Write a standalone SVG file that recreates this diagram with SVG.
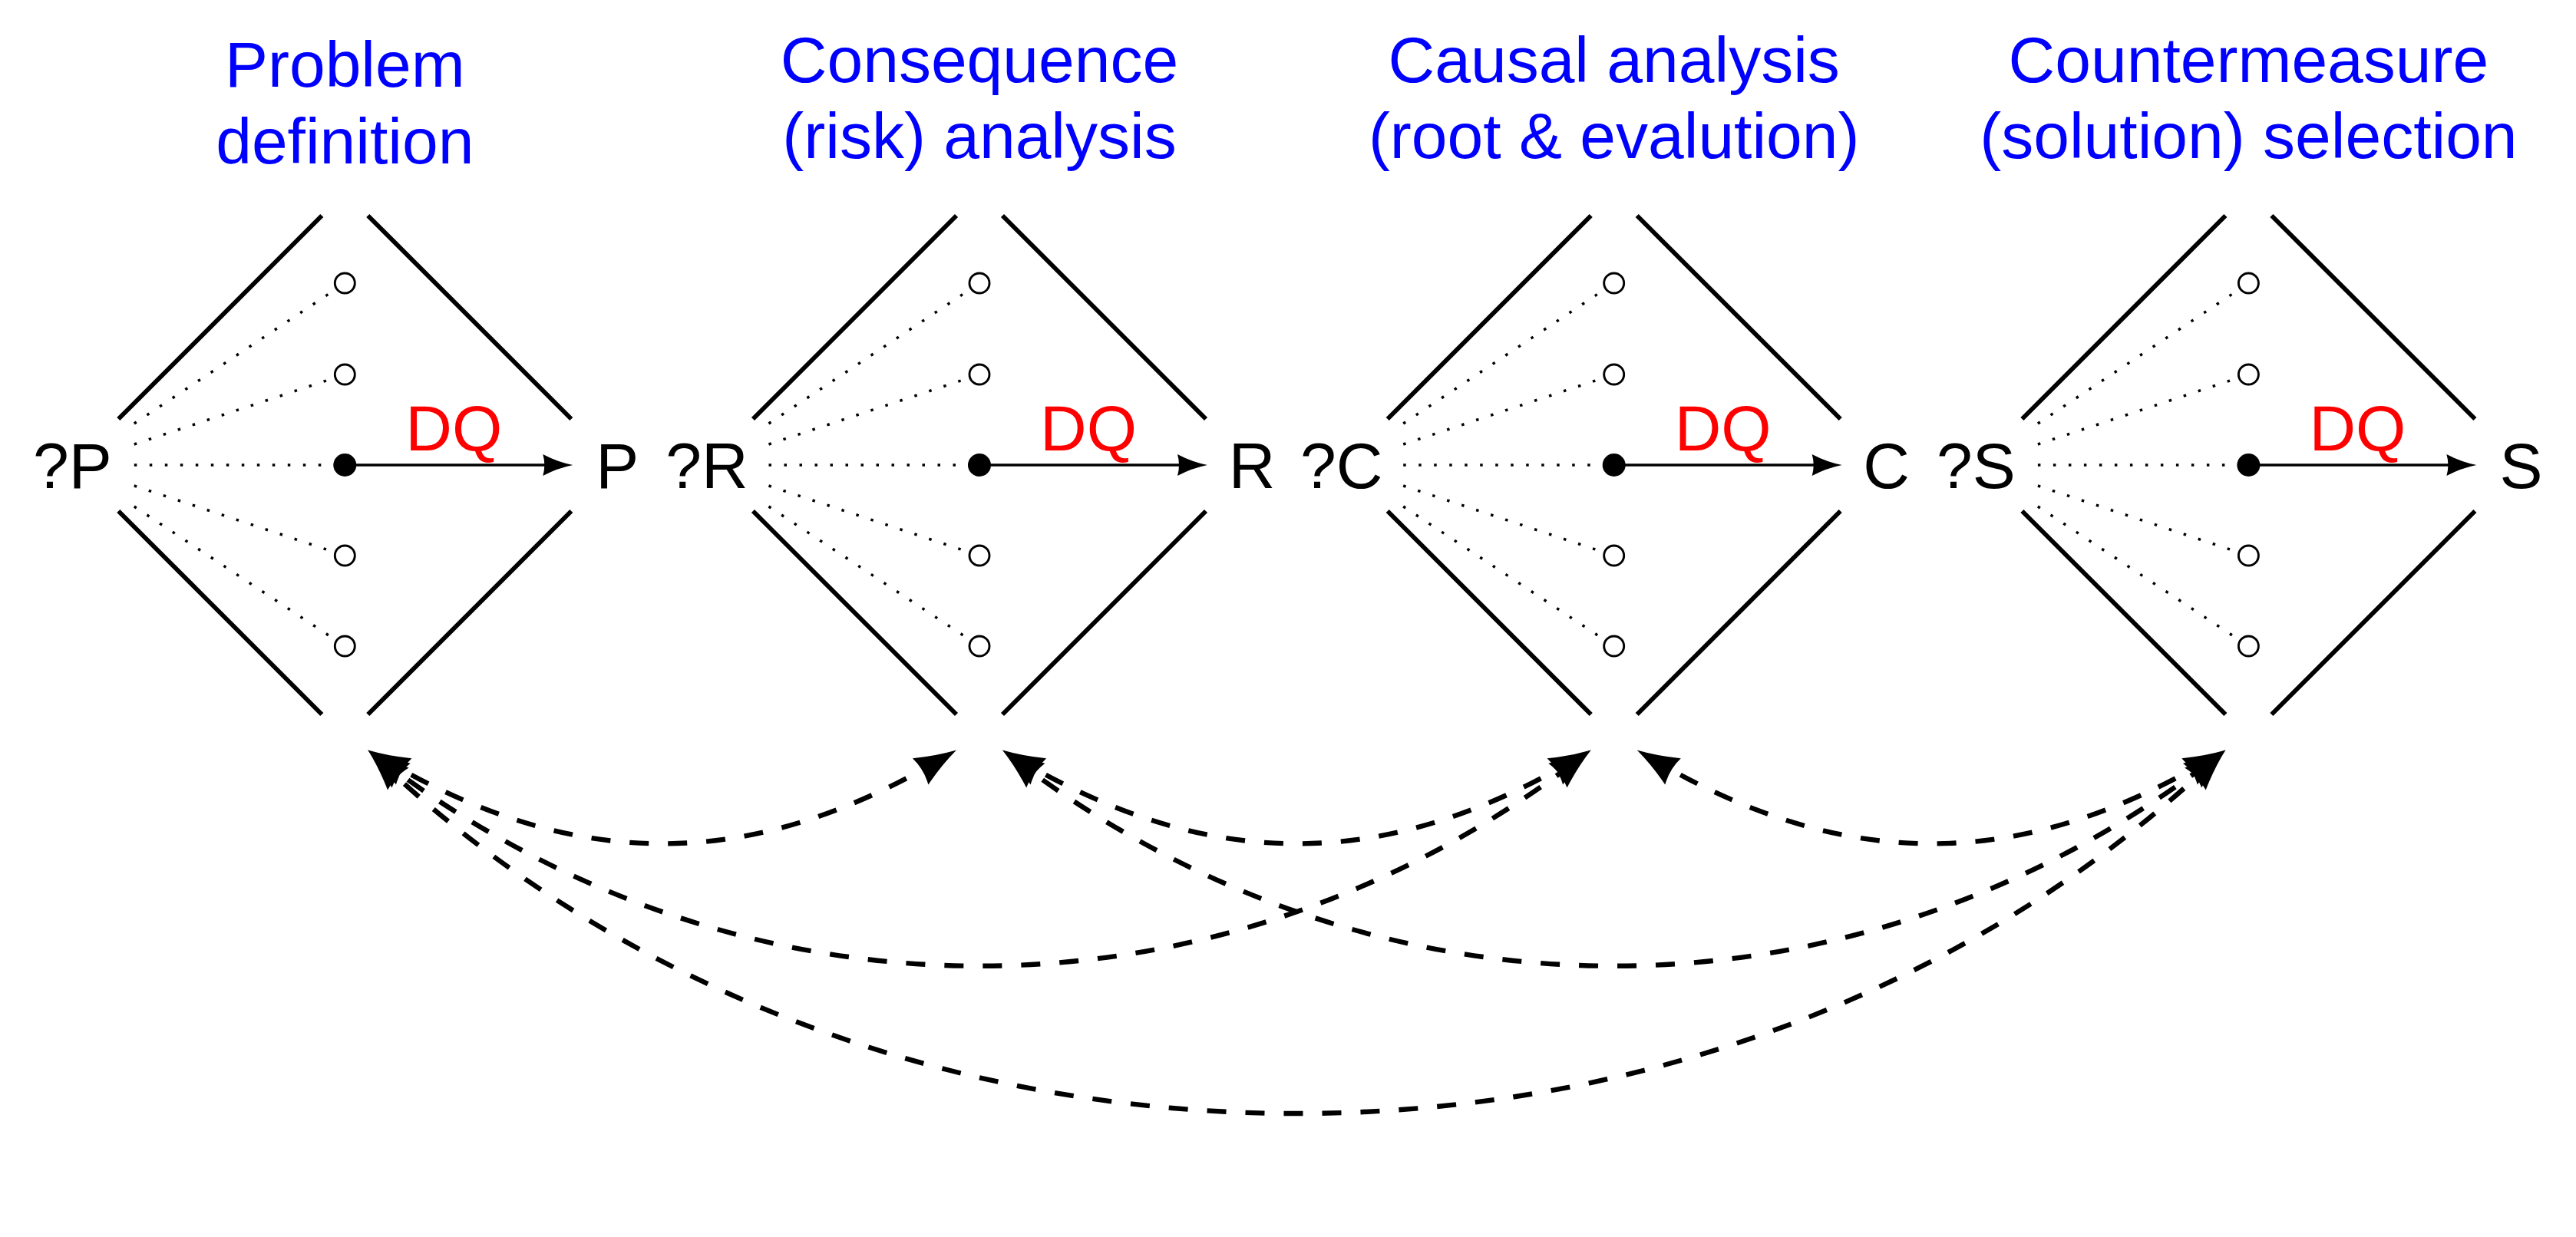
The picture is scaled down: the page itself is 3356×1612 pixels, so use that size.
<svg xmlns="http://www.w3.org/2000/svg" width="3356" height="1612" viewBox="0 0 3356 1612">
<style>
.bg{fill:#ffffff}
.t{font-family:"Liberation Sans",Arial,Helvetica,sans-serif;font-size:84px;text-anchor:middle}
.title{fill:#0000ff}
.lab{fill:#000000}
.dq{fill:#ff0000}
.dia{fill:none;stroke:#000;stroke-width:5.8;stroke-linecap:butt}
.dot{fill:none;stroke:#000;stroke-width:3.5;stroke-dasharray:3.5 16.5}
.oc{fill:#fff;stroke:#000;stroke-width:2.9}
.fc{fill:#000}
.arr{fill:none;stroke:#000;stroke-width:3.6;marker-end:url(#ahs)}
.dash{fill:none;stroke:#000;stroke-width:6.4;stroke-dasharray:25 25;marker-start:url(#ahd);marker-end:url(#ahd)}
</style>
<defs>
<marker id="ahs" markerUnits="userSpaceOnUse" viewBox="-45 -16 50 32" markerWidth="50" markerHeight="32" refX="-10" refY="0" orient="auto">
<path d="M0,0 Q-20,-4 -39,-14 Q-35,0 -39,14 Q-20,4 0,0 Z" fill="#000"/>
</marker>
<marker id="ahd" markerUnits="userSpaceOnUse" viewBox="-60 -25 80 50" markerWidth="80" markerHeight="50" refX="-15" refY="0" orient="auto-start-reverse">
<path d="M0,0 Q-27,-7 -54.5,-20 Q-49,0 -54.5,20 Q-27,7 0,0 Z" fill="#000"/>
</marker>
</defs>
<rect class="bg" x="0" y="0" width="3356" height="1612"/>

<g id="node-problem" transform="translate(449.3,0)">
<text class="t title" x="0" y="112.5">Problem</text>
<text class="t title" x="0" y="212.5">definition</text>
<path class="dia" d="M-295,546 L-30,281 M30,281 L295,546 M-295,666 L-30,931 M30,931 L295,666"/>
<path class="dot" d="M-274.5,552 L0,369 M-274.5,579 L0,488 M-274.5,606 L0,606 M-274.5,633 L0,724 M-274.5,660 L0,842"/>
<circle class="oc" cx="0" cy="369" r="13"/>
<circle class="oc" cx="0" cy="488" r="13"/>
<circle class="oc" cx="0" cy="724" r="13"/>
<circle class="oc" cx="0" cy="842" r="13"/>
<circle class="fc" cx="0" cy="606" r="15"/>
<path class="arr" d="M0,606 L287,606"/>
<text class="t dq" x="142" y="587">DQ</text>
<text class="t lab" x="-355" y="636">?P</text>
<text class="t lab" x="355" y="636">P</text>
</g>

<g id="node-consequence" transform="translate(1276,0)">
<text class="t title" x="0" y="106.5">Consequence</text>
<text class="t title" x="0" y="205.5">(risk) analysis</text>
<path class="dia" d="M-295,546 L-30,281 M30,281 L295,546 M-295,666 L-30,931 M30,931 L295,666"/>
<path class="dot" d="M-274.5,552 L0,369 M-274.5,579 L0,488 M-274.5,606 L0,606 M-274.5,633 L0,724 M-274.5,660 L0,842"/>
<circle class="oc" cx="0" cy="369" r="13"/>
<circle class="oc" cx="0" cy="488" r="13"/>
<circle class="oc" cx="0" cy="724" r="13"/>
<circle class="oc" cx="0" cy="842" r="13"/>
<circle class="fc" cx="0" cy="606" r="15"/>
<path class="arr" d="M0,606 L287,606"/>
<text class="t dq" x="142" y="587">DQ</text>
<text class="t lab" x="-355" y="636">?R</text>
<text class="t lab" x="355" y="636">R</text>
</g>

<g id="node-causal" transform="translate(2102.7,0)">
<text class="t title" x="0" y="106.5">Causal analysis</text>
<text class="t title" x="0" y="205.5">(root &amp; evalution)</text>
<path class="dia" d="M-295,546 L-30,281 M30,281 L295,546 M-295,666 L-30,931 M30,931 L295,666"/>
<path class="dot" d="M-274.5,552 L0,369 M-274.5,579 L0,488 M-274.5,606 L0,606 M-274.5,633 L0,724 M-274.5,660 L0,842"/>
<circle class="oc" cx="0" cy="369" r="13"/>
<circle class="oc" cx="0" cy="488" r="13"/>
<circle class="oc" cx="0" cy="724" r="13"/>
<circle class="oc" cx="0" cy="842" r="13"/>
<circle class="fc" cx="0" cy="606" r="15"/>
<path class="arr" d="M0,606 L287,606"/>
<text class="t dq" x="142" y="587">DQ</text>
<text class="t lab" x="-355" y="636">?C</text>
<text class="t lab" x="355" y="636">C</text>
</g>

<g id="node-countermeasure" transform="translate(2929.4,0)">
<text class="t title" x="0" y="106.5">Countermeasure</text>
<text class="t title" x="0" y="205.5">(solution) selection</text>
<path class="dia" d="M-295,546 L-30,281 M30,281 L295,546 M-295,666 L-30,931 M30,931 L295,666"/>
<path class="dot" d="M-274.5,552 L0,369 M-274.5,579 L0,488 M-274.5,606 L0,606 M-274.5,633 L0,724 M-274.5,660 L0,842"/>
<circle class="oc" cx="0" cy="369" r="13"/>
<circle class="oc" cx="0" cy="488" r="13"/>
<circle class="oc" cx="0" cy="724" r="13"/>
<circle class="oc" cx="0" cy="842" r="13"/>
<circle class="fc" cx="0" cy="606" r="15"/>
<path class="arr" d="M0,606 L287,606"/>
<text class="t dq" x="142" y="587">DQ</text>
<text class="t lab" x="-355" y="636">?S</text>
<text class="t lab" x="355" y="636">S</text>
</g>

<g id="connectors">
<path id="c-p-r" class="dash" d="M492.2,985.2 C748.3,1137.5 977,1137.5 1233.1,985.2"/>
<path id="c-r-c" class="dash" d="M1318.9,985.2 C1575,1137.5 1803.7,1137.5 2059.8,985.2"/>
<path id="c-c-s" class="dash" d="M2145.6,985.2 C2401.7,1137.5 2630.4,1137.5 2886.5,985.2"/>
<path id="c-p-c" class="dash" d="M491.2,986.6 C966.3,1349.5 1585.7,1349.5 2060.8,986.6"/>
<path id="c-r-s" class="dash" d="M1317.9,986.6 C1793,1349.5 2412.4,1349.5 2887.5,986.6"/>
<path id="c-p-s" class="dash" d="M490.2,987.8 C1139.3,1605.5 2239.4,1605.5 2888.5,987.8"/>
</g>
</svg>
